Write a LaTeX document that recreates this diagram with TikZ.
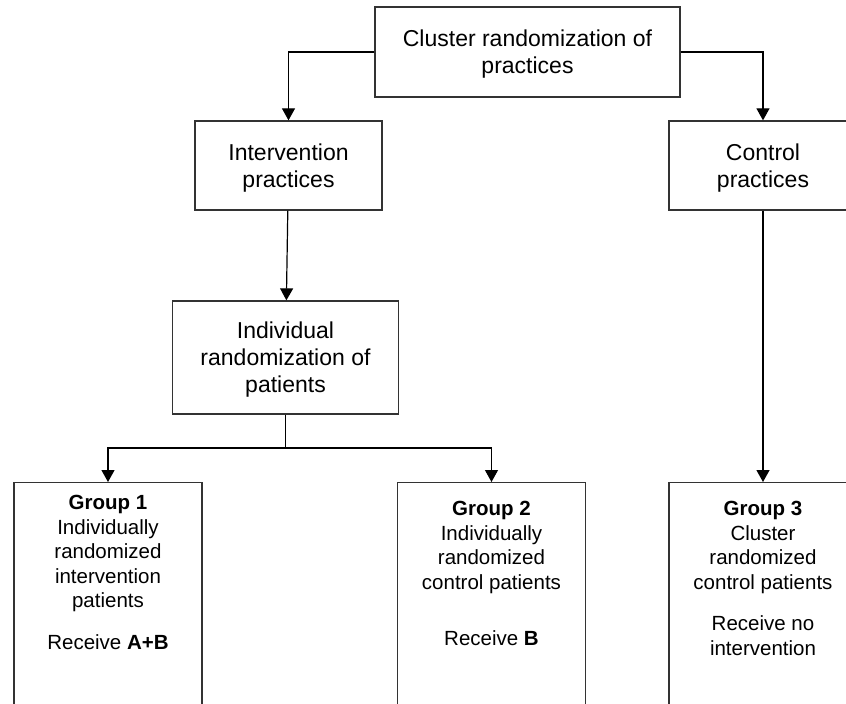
\documentclass[tikz,border=0pt]{standalone}
\usepackage{fontspec}
\setmainfont{Liberation Sans}
\usepackage{tikz}
\usetikzlibrary{positioning,arrows.meta}

\begin{document}
\begin{tikzpicture}
  [x=1pt,y=-1pt,
   box/.style={draw=black!80,line width=1.3pt,rectangle,inner sep=0pt,align=center,text depth=0pt,font=\fontsize{23pt}{27pt}\selectfont},
   groupbox/.style={draw=black!80,line width=1.3pt,rectangle,inner sep=0pt,anchor=north,minimum width=188pt,minimum height=280pt},
   grouptext/.style={inner sep=0pt,align=center,font=\fontsize{20.5pt}{24.5pt}\selectfont},
   arr/.style={-{Triangle[width=13pt,length=12pt]},line width=1.2pt}] % the group boxes run past the bottom edge, so the picture is clipped
    \useasboundingbox (0,0) rectangle (846,704);
    \clip (0,0) rectangle (846,704);

    \node[box,minimum width=305pt,minimum height=90pt]  (cluster) at (527.5,52)  {Cluster randomization of\\practices};
    \node[box,minimum width=187pt,minimum height=89pt]  (interv)  at (288.5,165.5) {Intervention\\practices};
    \node[box,minimum width=188pt,minimum height=89pt]  (control) at (763,165.5)   {Control\\practices};
    \node[box,minimum width=226pt,minimum height=113pt] (indiv)   at (285.5,357.5) {Individual\\randomization of\\patients};

    \node[groupbox] (g1) at (108,482)   {};
    \node[groupbox] (g2) at (491.5,482) {};
    \node[groupbox] (g3) at (763,482)   {};

    \node[grouptext,below=13pt of g1.north] (g1text) {\textbf{Group 1}\\Individually\\randomized\\intervention\\patients\\[17pt]Receive \textbf{A+B}};
    \node[grouptext,below=19pt of g2.north] (g2text) {\textbf{Group 2}\\Individually\\randomized\\control patients\\[32pt]Receive \textbf{B}};
    \node[grouptext,below=19pt of g3.north] (g3text) {\textbf{Group 3}\\Cluster\\randomized\\control patients\\[17pt]Receive no\\intervention};

    \coordinate (split) at (285.5,448);

    \draw[arr] (cluster.west) -| (interv.north);
    \draw[arr] (cluster.east) -| (control.north);
    \draw[arr] (interv) -- (indiv);
    \draw[line width=1.2pt] (indiv.south) -- (split);
    \draw[arr] (split) -| (g1.north);
    \draw[arr] (split) -| (g2.north);
    \draw[arr] (control) -- (g3);

\end{tikzpicture}
\end{document}
